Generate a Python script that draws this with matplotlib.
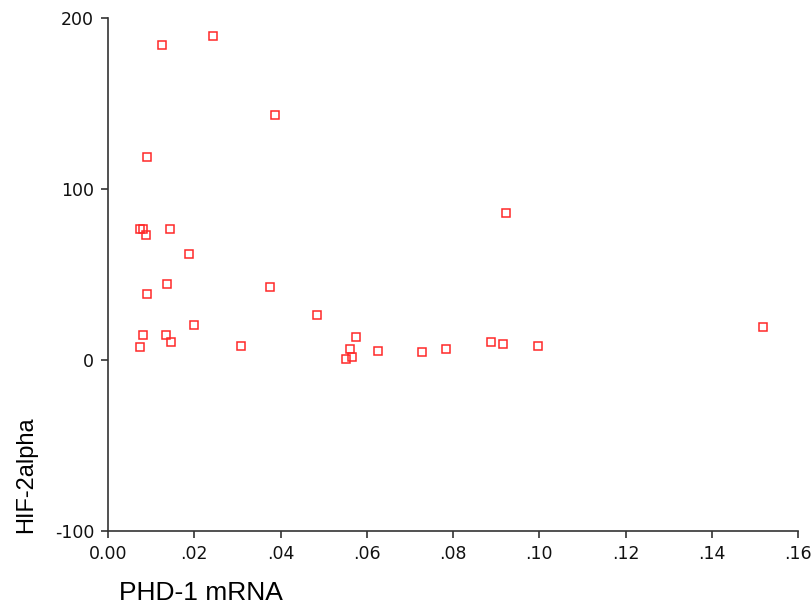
import matplotlib.pyplot as plt

plt.rcParams['font.family'] = ['DejaVu Sans']
plt.rcParams['axes.unicode_minus'] = False

# PHD-1 mRNA vs HIF-2alpha
phd1 = [0.0125, 0.0244, 0.0388, 0.0091, 0.0924,
        0.0074, 0.0081, 0.0088, 0.0144, 0.0188, 0.0137, 0.0091, 0.0376,
        0.0200, 0.0081, 0.0135, 0.0146, 0.0074, 0.0309,
        0.0485, 0.0574, 0.0560, 0.0553, 0.0566, 0.0627, 0.0729, 0.0783,
        0.0887, 0.0917, 0.0996, 0.1519]
hif2a = [184, 189.5, 143, 119, 86,
         76.6, 76.6, 73, 76.6, 62, 44.4, 38.6, 42.7,
         20.5, 14.6, 14.6, 10.5, 7.6, 8.2,
         26.3, 13.5, 6.4, 0.6, 1.8, 5.3, 4.7, 6.4,
         10.5, 9.4, 8.2, 19.3]

x_ticks = [0.0, 0.02, 0.04, 0.06, 0.08, 0.10, 0.12, 0.14, 0.16]
x_ticklabels = ['0.00', '.02', '.04', '.06', '.08', '.10', '.12', '.14', '.16']
y_ticks = [-100, 0, 100, 200]

fig = plt.figure(figsize=(8.11, 6.13), dpi=100)
ax = fig.add_axes([108/811, 1 - 531/613, (798-108)/811, (531-18)/613])

ax.plot(phd1, hif2a, linestyle='none', marker='s', markersize=6,
        markerfacecolor='none', markeredgecolor='#ff2828', markeredgewidth=1.1)

ax.set_xlim(0, 0.16)
ax.set_ylim(-100, 200)
ax.set_xticks(x_ticks)
ax.set_xticklabels(x_ticklabels)
ax.set_yticks(y_ticks)

for s in ['top', 'right']:
    ax.spines[s].set_visible(False)
for s in ['left', 'bottom']:
    ax.spines[s].set_color('#333333')
    ax.spines[s].set_linewidth(1.2)
ax.tick_params(direction='out', length=5, width=1.2, color='#333333',
               labelsize=12.5, labelcolor='#111111', pad=5)

fig.text(201/811, 1 - 593/613, 'PHD-1 mRNA', fontsize=19, family='Liberation Sans',
         ha='center', va='center')
fig.text(26/811, 1 - 475/613, 'HIF-2alpha', fontsize=17, family='Liberation Sans',
         rotation=90, ha='center', va='center')

fig.savefig('out.png', dpi=100)
